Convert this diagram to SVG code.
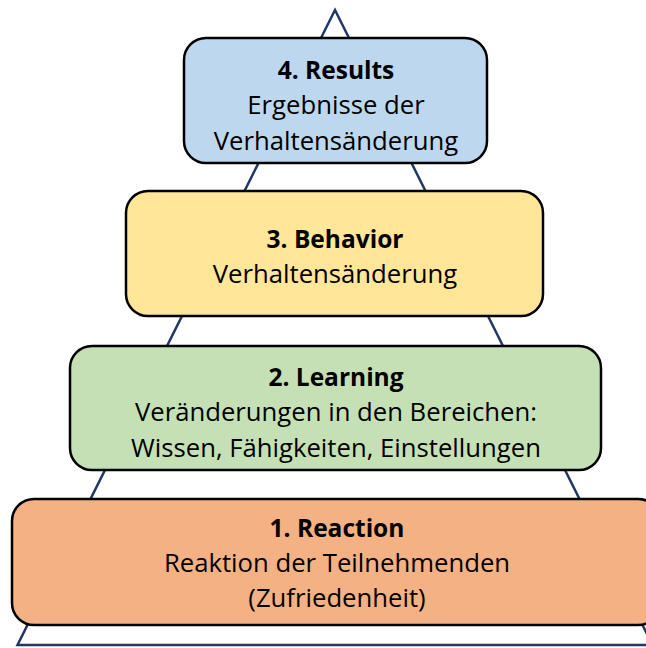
<svg xmlns="http://www.w3.org/2000/svg" width="646" height="648" viewBox="0 0 646 648">
<style>
.box{stroke:#000;stroke-width:2.5}
.t{font-family:"Open Sans","Liberation Sans",sans-serif;font-size:25.7px;fill:#000;text-anchor:middle}
.b{font-weight:bold;font-size:24.5px}
</style>
<rect width="646" height="648" fill="#fff"/>
<g id="connectors">
<polygon points="335,10 17.5,645 652.5,645" fill="none" stroke="#1f3864" stroke-width="2.5" stroke-linejoin="miter"/>
</g>
<g id="node4">
<rect class="box" x="184" y="38" width="303" height="125" rx="22" fill="#bdd7ee"/>
<text class="t b" x="336" y="79">4. Results</text>
<text class="t" x="336" y="114">Ergebnisse der</text>
<text class="t" x="336" y="150">Verhaltensänderung</text>
</g>
<g id="node3">
<rect class="box" x="126" y="191" width="417" height="125" rx="22" fill="#ffe699"/>
<text class="t b" x="335" y="248">3. Behavior</text>
<text class="t" x="335" y="283">Verhaltensänderung</text>
</g>
<g id="node2">
<rect class="box" x="70" y="346" width="531" height="124" rx="22" fill="#c5e0b4"/>
<text class="t b" x="336" y="386">2. Learning</text>
<text class="t" x="336" y="421">Veränderungen in den Bereichen:</text>
<text class="t" x="336" y="457">Wissen, Fähigkeiten, Einstellungen</text>
</g>
<g id="node1">
<rect class="box" x="12" y="499" width="648" height="126" rx="22" fill="#f4b183"/>
<text class="t b" x="337" y="537">1. Reaction</text>
<text class="t" x="337" y="572">Reaktion der Teilnehmenden</text>
<text class="t" x="337" y="607">(Zufriedenheit)</text>
</g>
</svg>
